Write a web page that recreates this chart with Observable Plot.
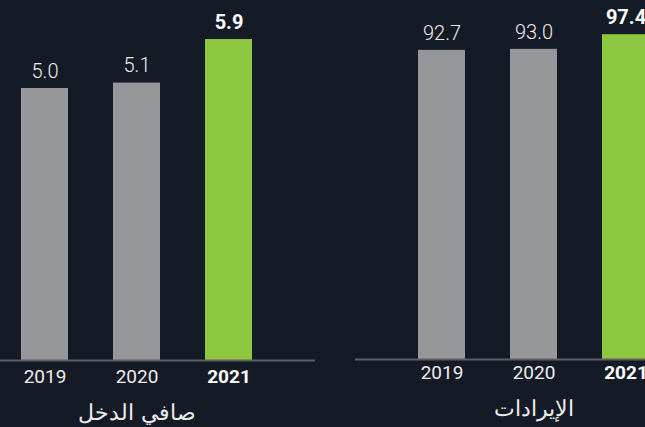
<!DOCTYPE html>
<html>
<head>
<meta charset="utf-8">
<script src="https://cdn.jsdelivr.net/npm/d3@7"></script>
<script src="https://cdn.jsdelivr.net/npm/@observablehq/plot@0.6"></script>
<style>
  html, body { margin: 0; padding: 0; background: #151a27; }
  #wrap { position: relative; width: 645px; height: 427px; overflow: hidden; background: #151a27; }
  #wrap svg { position: absolute; top: 0; }
  #wrap svg text.yr { letter-spacing: 0.6px; }
</style>
</head>
<body>
<div id="wrap"></div>
<script>
const years = ["2019", "2020", "2021"];
const netIncome = [5.0, 5.1, 5.9];
const revenue = [92.7, 93.0, 97.4];
const titles = ["صافي الدخل", "الإيرادات"];
const highlightYear = "2021";

const GRAY = "#96979b";
const GREEN = "#8dc63f";
const TEXT = "#eeeeee";

function panel({values, title, yDomain, yRange, xRange, width, yearDy, titleDy}) {
  const data = years.map((y, i) => ({year: y, value: values[i], hi: y === highlightYear}));
  return Plot.plot({
    width, height: 427, margin: 0,
    style: {background: "transparent", fontFamily: "Roboto, sans-serif", overflow: "visible"},
    x: {domain: years, range: xRange, padding: 0.49, axis: null},
    y: {domain: yDomain, range: yRange, axis: null},
    color: {type: "identity"},
    marks: [
      Plot.barY(data, {x: "year", y: "value", fill: d => d.hi ? GREEN : GRAY}),
      Plot.ruleY([0], {stroke: "#5e5f64", strokeWidth: 2}),
      Plot.text(data.filter(d => !d.hi), {x: "year", y: "value", text: d => d.value.toFixed(1), dy: -17, fill: TEXT, fontSize: 20, fontWeight: 300}),
      Plot.text(data.filter(d => d.hi), {x: "year", y: "value", text: d => d.value.toFixed(1), dy: -17, fill: "#ffffff", fontSize: 20, fontWeight: 700}),
      Plot.text(data.filter(d => !d.hi), {x: "year", y: () => 0, text: "year", dy: yearDy, fill: TEXT, fontSize: 19, fontWeight: 400, className: "yr"}),
      Plot.text(data.filter(d => d.hi), {x: "year", y: () => 0, text: "year", dy: yearDy, fill: "#ffffff", fontSize: 19, fontWeight: 700, className: "yr"}),
      Plot.text([title], {x: () => "2020", y: () => 0, text: d => d, dy: titleDy, fill: TEXT, fontSize: 22, fontWeight: 300, fontFamily: "DejaVu Sans, sans-serif"})
    ]
  });
}

const wrap = document.getElementById("wrap");

const left = panel({
  values: netIncome, title: titles[0],
  yDomain: [0, 6], yRange: [360, 360 - 6 * 54.4],
  xRange: [-24.2, 297.6], width: 315, yearDy: 16, titleDy: 52
});
left.style.left = "0px";
wrap.appendChild(left);

const right = panel({
  values: revenue, title: titles[1],
  yDomain: [0, 100], yRange: [359, 359 - 100 * 3.335],
  xRange: [16.6, 339.4], width: 335, yearDy: 13, titleDy: 49
});
right.style.left = "355px";
wrap.appendChild(right);
</script>
</body>
</html>
